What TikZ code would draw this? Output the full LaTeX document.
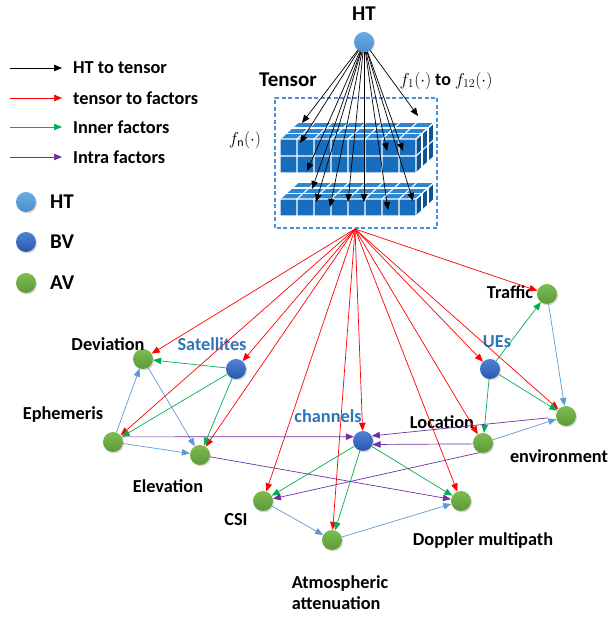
\documentclass[tikz,border=0pt]{standalone}
\usepackage{fontspec}
\setmainfont{Carlito}
\usetikzlibrary{arrows.meta,shadows}

\definecolor{edgered}{HTML}{FF0000}
\definecolor{edgegreen}{HTML}{00B050}
\definecolor{edgeblue}{HTML}{5B9BD5}
\definecolor{edgepurple}{HTML}{7030A0}
\definecolor{textblue}{HTML}{2E75B6}
\definecolor{boxblue}{HTML}{4A90D9}
\definecolor{cfront}{HTML}{176EBE}
\definecolor{ctop}{HTML}{2C86D3}
\definecolor{cside}{HTML}{0D5494}
\definecolor{htlight}{HTML}{6AACE3}
\definecolor{htdark}{HTML}{4C8DCC}
\definecolor{bvlight}{HTML}{4E82D8}
\definecolor{bvdark}{HTML}{2B57AE}
\definecolor{avlight}{HTML}{7DBD50}
\definecolor{avdark}{HTML}{5D9939}

\tikzset{
  vtx/.style={circle, minimum size=20pt, inner sep=0pt,
    drop shadow={shadow xshift=1pt, shadow yshift=-1.5pt, opacity=0.3}},
  htv/.style={vtx, top color=htlight, bottom color=htdark},
  bvv/.style={vtx, top color=bvlight, bottom color=bvdark},
  avv/.style={vtx, top color=avlight, bottom color=avdark},
  lbl/.style={font=\fontsize{18.3}{21}\selectfont\bfseries, inner sep=0pt},
  biglbl/.style={font=\fontsize{21}{25}\selectfont\bfseries, inner sep=0pt},
  mathlbl/.style={font=\fontsize{17}{20}\selectfont, inner sep=0pt},
  tip/.style={-{Triangle[length=8pt,width=6.5pt]}, line width=0.7pt},
  blk/.style={tip, draw=black},
  redge/.style={tip, draw=edgered, color=edgered},
  gedge/.style={tip, draw=edgegreen, color=edgegreen},
  bedge/.style={tip, draw=edgeblue, color=edgeblue},
  pedge/.style={tip, draw=edgepurple, color=edgepurple},
  cubegrid/.style={draw=white, line width=1.1pt, line join=round},
}

% one slab of cubes: 8 columns, #3 rows, 3 layers deep; #1,#2 = front lower-left corner
\newcommand\cubeslab[3]{%
  \begin{scope}[shift={(#1,#2)}]
    \pgfmathsetmacro\slabh{#3*17}
    \fill[cfront] (0,0) rectangle (136,\slabh);
    \fill[ctop] (0,\slabh) -- (136,\slabh) -- (154,\slabh+16.5) -- (18,\slabh+16.5) -- cycle;
    \fill[cside] (136,0) -- (154,16.5) -- (154,\slabh+16.5) -- (136,\slabh) -- cycle;
    \foreach \i in {0,...,8}
      \draw[cubegrid] (\i*17,0) -- (\i*17,\slabh) -- (\i*17+18,\slabh+16.5);
    \foreach \j in {0,...,#3}
      \draw[cubegrid] (0,\j*17) -- (136,\j*17) -- (154,\j*17+16.5);
    \foreach \k in {1,2,3}
      \draw[cubegrid] (6*\k,\slabh+5.5*\k) -- (136+6*\k,\slabh+5.5*\k) -- (136+6*\k,5.5*\k);
  \end{scope}}

\begin{document}
\begin{tikzpicture}[x=1pt, y=1pt]
\useasboundingbox (0,0) rectangle (610,618);

% ---------- legend ----------
\coordinate (la1s) at (10,550); \coordinate (la1e) at (62,550);
\coordinate (la2s) at (10,520); \coordinate (la2e) at (62,520);
\coordinate (la3s) at (10,491); \coordinate (la3e) at (62,491);
\coordinate (la4s) at (10,461); \coordinate (la4e) at (62,461);
\draw[blk] (la1s) -- (la1e);
\draw[tip, draw=red!75!black, color=edgered] (la2s) -- (la2e);
\draw[gedge] (la3s) -- (la3e);
\draw[pedge] (la4s) -- (la4e);
\node[lbl, anchor=west] (lt1) at (73,550) {HT to tensor};
\node[lbl, anchor=west] (lt2) at (73,520) {tensor to factors};
\node[lbl, anchor=west] (lt3) at (73,491) {Inner factors};
\node[lbl, anchor=west] (lt4) at (73,461) {Intra factors};

\node[htv] (lg1) at (26,416) {};
\node[bvv] (lg2) at (26,376) {};
\node[avv] (lg3) at (26,335) {};
\node[biglbl, anchor=west] (lgt1) at (50,416) {HT};
\node[biglbl, anchor=west] (lgt2) at (50,376) {BV};
\node[biglbl, anchor=west] (lgt3) at (50,335) {AV};

% ---------- tensor ----------
\draw[draw=boxblue, line width=1.2pt, dash pattern=on 4pt off 2.5pt] (275,390) rectangle (437,520);
\cubeslab{280}{445}{2}
\cubeslab{280}{402}{1}
\node[biglbl] (tensorlbl) at (288,538) {Tensor};
\node[mathlbl] (fnlbl) at (245,478) {$f_{\mathrm{n}}(\cdot)$};
\node[mathlbl] (flbl) at (446,537) {$f_1(\cdot)$ \textbf{\fontsize{18}{21}\selectfont to} $f_{12}(\cdot)$};

% ---------- vertices ----------
\node[htv] (ht) at (364,576) {};
\node[biglbl] (htlbl) at (364,604) {HT};

\node[avv] (traffic) at (547,324) {};
\node[avv] (deviation) at (143,259) {};
\node[bvv] (satellites) at (236,249) {};
\node[bvv] (ues) at (490,249) {};
\node[avv] (ephemeris) at (113,176) {};
\node[avv] (elevation) at (200,163) {};
\node[bvv] (channels) at (363,177) {};
\node[avv] (location) at (483,175) {};
\node[avv] (environment) at (566,202) {};
\node[avv] (csi) at (263,117) {};
\node[avv] (doppler) at (461,117) {};
\node[avv] (atmos) at (332,78) {};

\node[lbl] at (510,326) {Traffic};
\node[lbl] at (108,274) {Deviation};
\node[lbl, text=textblue] at (212,274) {Satellites};
\node[lbl, text=textblue] at (497,276) {UEs};
\node[lbl, text=textblue] at (328,202) {channels};
\node[lbl] at (442,196) {Location};
\node[lbl] at (559,162) {environment};
\node[lbl] at (63,203) {Ephemeris};
\node[lbl] at (168,132) {Elevation};
\node[lbl] at (236,98) {CSI};
\node[lbl] at (483,77) {Doppler multipath};
\node[lbl, align=left, font=\fontsize{18.3}{21}\selectfont\bfseries] at (340,25) {Atmospheric\\attenuation};

% ---------- HT to tensor ----------
\foreach \n/\px/\py in {1/302/495, 2/300/475, 3/307/447, 4/312/429, 5/316/416,
    6/330/411, 7/348/416, 8/364/416, 9/387/467, 10/403/467, 11/388/408,
    12/413/417, 13/418/502} {
  \coordinate (t\n) at (\px,\py);
  \draw[blk] (ht) -- (t\n);
}

% ---------- tensor to factors ----------
\coordinate (tsrc) at (355,389);
\foreach \f in {traffic, deviation, satellites, ues, ephemeris, elevation,
    channels, location, environment, csi, doppler, atmos}
  \draw[redge] (tsrc) -- (\f);

% ---------- inner factors ----------
\draw[gedge] (satellites) -- (deviation);
\draw[gedge] (satellites) -- (ephemeris);
\draw[gedge] (satellites) -- (elevation);
\draw[gedge] (ues) -- (traffic);
\draw[gedge] (ues) -- (environment);
\draw[gedge] (ues) -- (location);
\draw[gedge] (channels) -- (csi);
\draw[gedge] (channels) -- (atmos);
\draw[gedge] (channels) -- (doppler);

% ---------- links between attribute vertices ----------
\draw[bedge] (ephemeris) -- (deviation);
\draw[bedge] (deviation) -- (elevation);
\draw[bedge] (ephemeris) -- (elevation);
\draw[bedge] (traffic) -- (environment);
\draw[bedge] (location) -- (environment);
\draw[bedge] (csi) -- (atmos);
\draw[bedge] (atmos) -- (doppler);

% ---------- intra factors ----------
\draw[pedge] (ephemeris.30) -- (channels.155);
\draw[pedge, shorten <=8pt] (environment) -- (channels.30);
\draw[pedge] (location.185) -- (channels.-20);
\draw[pedge] (location.250) -- (csi);
\draw[pedge] (elevation) -- (doppler);
\end{tikzpicture}
\end{document}
